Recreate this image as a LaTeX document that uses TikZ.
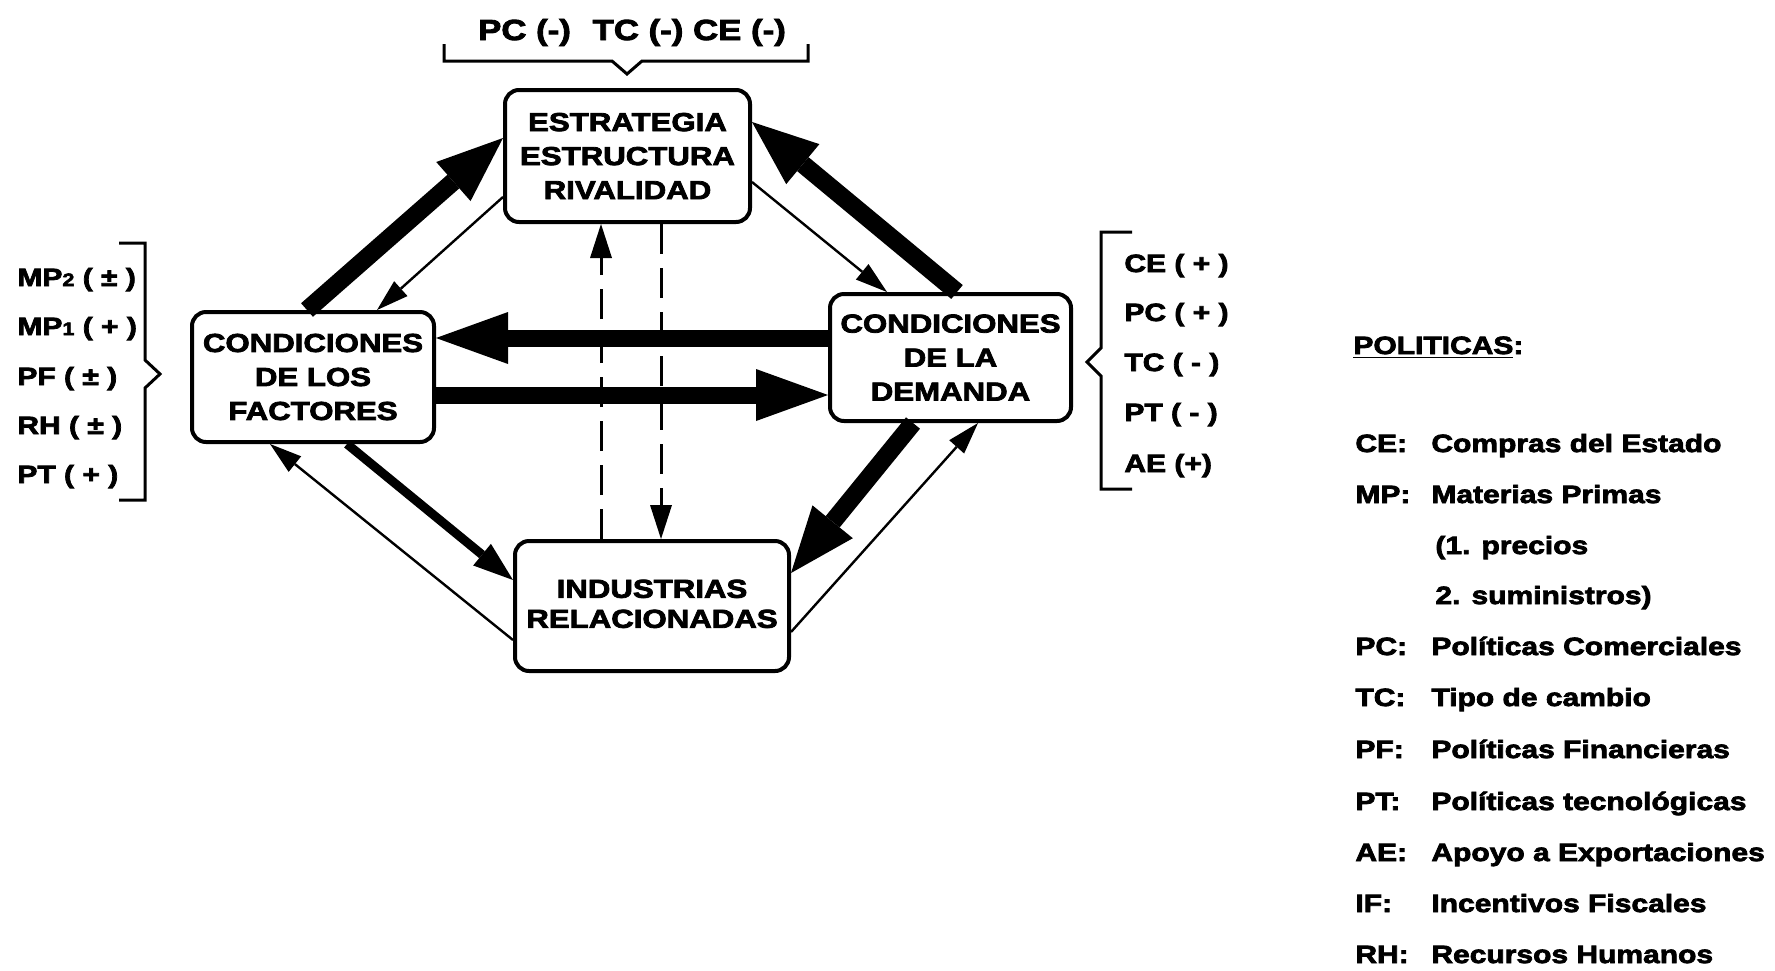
\documentclass[tikz,border=0pt]{standalone}
\usepackage{fontspec}
\setmainfont{Liberation Sans}[FakeStretch=1.2,BoldFeatures={FakeBold=3}]
\usetikzlibrary{arrows.meta,calc}
\newcommand{\bxf}{\fontsize{13}{17}\selectfont\bfseries}
\newcommand{\lbf}{\fontsize{12.5}{15}\selectfont\bfseries}
\newcommand{\tpf}{\fontsize{14.5}{17}\selectfont\bfseries}
\newcommand{\smd}[1]{{\fontsize{9}{9}\selectfont #1}}
\begin{document}
\begin{tikzpicture}[x=0.5pt,y=-0.5pt,
 box/.style={draw,line width=2pt,rounded corners=7pt,align=center,inner sep=0pt,font=\bxf},
 lab/.style={anchor=base west,inner sep=0pt,font=\lbf},
 brk/.style={line width=1.5pt,line join=miter},
 bigarr/.style={line width=8.5pt,-{Triangle[length=36pt,width=26pt,line width=0pt]}},
 diagarr/.style={line width=9pt,-{Triangle[length=33pt,width=26pt,line width=0pt]}},
 medarr/.style={line width=4.5pt,-{Triangle[length=20pt,width=14pt,line width=0pt]}},
 thinarr/.style={line width=1.2pt,-{Triangle[length=16pt,width=10pt,line width=0pt]}},
 dasharr/.style={line width=1.5pt,dash pattern=on 15pt off 7pt,-{Triangle[length=17pt,width=11pt,line width=0pt]}},
]
\useasboundingbox (0,0) rectangle (1775,970);

% boxes
\node[box,minimum width=122.5pt,minimum height=66pt] (T) at (627.5,156) {ESTRATEGIA\\ESTRUCTURA\\RIVALIDAD};
\node[box,minimum width=121pt,minimum height=65pt] (L) at (313,377) {CONDICIONES\\DE LOS\\FACTORES};
\node[box,minimum width=120.5pt,minimum height=63.5pt] (R) at (950.5,357.5) {CONDICIONES\\DE LA\\DEMANDA};
\node[box,minimum width=137pt,minimum height=65pt] (B) at (652,606) {\raisebox{2.5pt}{\begin{tabular}{@{}c@{}}INDUSTRIAS\\[-2pt]RELACIONADAS\end{tabular}}};

% thick arrows to top
\draw[diagarr] ($(L.north)+(-6,0)$) -- ($(T.west)+(0,-18)$);
\draw[diagarr] ($(R.north)+(6.5,0)$) -- ($(T.east)+(0,-34)$);
% thin arrows from top
\draw[thinarr] ($(T.west)+(0,41)$) -- ($(L.north)+(64,0)$);
\draw[thinarr] ($(T.east)+(0,26)$) -- ($(R.north)+(-63.5,0)$);
% horizontal arrows
\draw[bigarr] ($(R.west)+(0,-19.5)$) -- ($(L.east)+(0,-39)$);
\draw[bigarr] ($(L.east)+(0,18)$) -- ($(R.west)+(0,37.5)$);
% lower arrows
\draw[medarr] ($(L.south)+(34,0)$) -- ($(B.west)+(0,-26)$);
\draw[thinarr] ($(B.west)+(0,34)$) -- ($(L.south)+(-43,0)$);
\draw[diagarr] ($(R.south)+(-37.5,0)$) -- ($(B.east)+(0,-33)$);
\draw[thinarr] ($(B.east)+(0,26)$) -- ($(R.south)+(27.5,0)$);
% dashed
\draw[dasharr] ($(B.north)+(-51,0)$) -- ($(T.south)+(-26.5,0)$);
\draw[dasharr] ($(T.south)+(33.5,0)$) -- ($(B.north)+(9,0)$);

% top bracket and label
\draw[brk] (444,44) -- (444,61) -- (612,61) -- (627,74) -- (642,61) -- (808,61) -- (808,44);
\node[anchor=base,inner sep=0pt,font=\tpf] (top) at (632,40) {PC (-)\hspace{6pt} TC (-) CE (-)};

% left bracket and labels
\draw[brk] (119,243) -- (145,243) -- (145,360) -- (160,374) -- (145,388) -- (145,500) -- (119,500);
\node[lab] (l1) at (17,286) {MP\smd{2} ( ± )};
\node[lab] (l2) at (17,335) {MP\smd{1} ( + )};
\node[lab] (l3) at (17,385) {PF ( ± )};
\node[lab] (l4) at (17,434) {RH ( ± )};
\node[lab] (l5) at (17,483) {PT ( + )};

% right bracket and labels
\draw[brk] (1132,232) -- (1101,232) -- (1101,348) -- (1087,362) -- (1101,376) -- (1101,489) -- (1132,489);
\node[lab] (r1) at (1124,272) {CE ( + )};
\node[lab] (r2) at (1124,321) {PC ( + )};
\node[lab] (r3) at (1124,371) {TC ( - )};
\node[lab] (r4) at (1124,421) {PT ( - )};
\node[lab] (r5) at (1124,472) {AE (+)};

% policies
\node[lab] (ph) at (1353,354) {\underline{POLITICAS}:};
\node[lab] (a1) at (1355,452) {CE:};  \node[lab] (b1) at (1431,452) {Compras del Estado};
\node[lab] (a2) at (1355,503) {MP:};  \node[lab] (b2) at (1431,503) {Materias Primas};
\node[lab] (b3) at (1435,554) {(1. precios};
\node[lab] (b4) at (1435,604) {2. suministros)};
\node[lab] (a5) at (1355,655) {PC:};  \node[lab] (b5) at (1431,655) {Políticas Comerciales};
\node[lab] (a6) at (1355,706) {TC:};  \node[lab] (b6) at (1431,706) {Tipo de cambio};
\node[lab] (a7) at (1355,758) {PF:};  \node[lab] (b7) at (1431,758) {Políticas Financieras};
\node[lab] (a8) at (1355,810) {PT:};  \node[lab] (b8) at (1431,810) {Políticas tecnológicas};
\node[lab] (a9) at (1355,861) {AE:};  \node[lab] (b9) at (1431,861) {Apoyo a Exportaciones};
\node[lab] (a10) at (1355,912) {IF:}; \node[lab] (b10) at (1431,912) {Incentivos Fiscales};
\node[lab] (a11) at (1355,963) {RH:}; \node[lab] (b11) at (1431,963) {Recursos Humanos};
\end{tikzpicture}
\end{document}
